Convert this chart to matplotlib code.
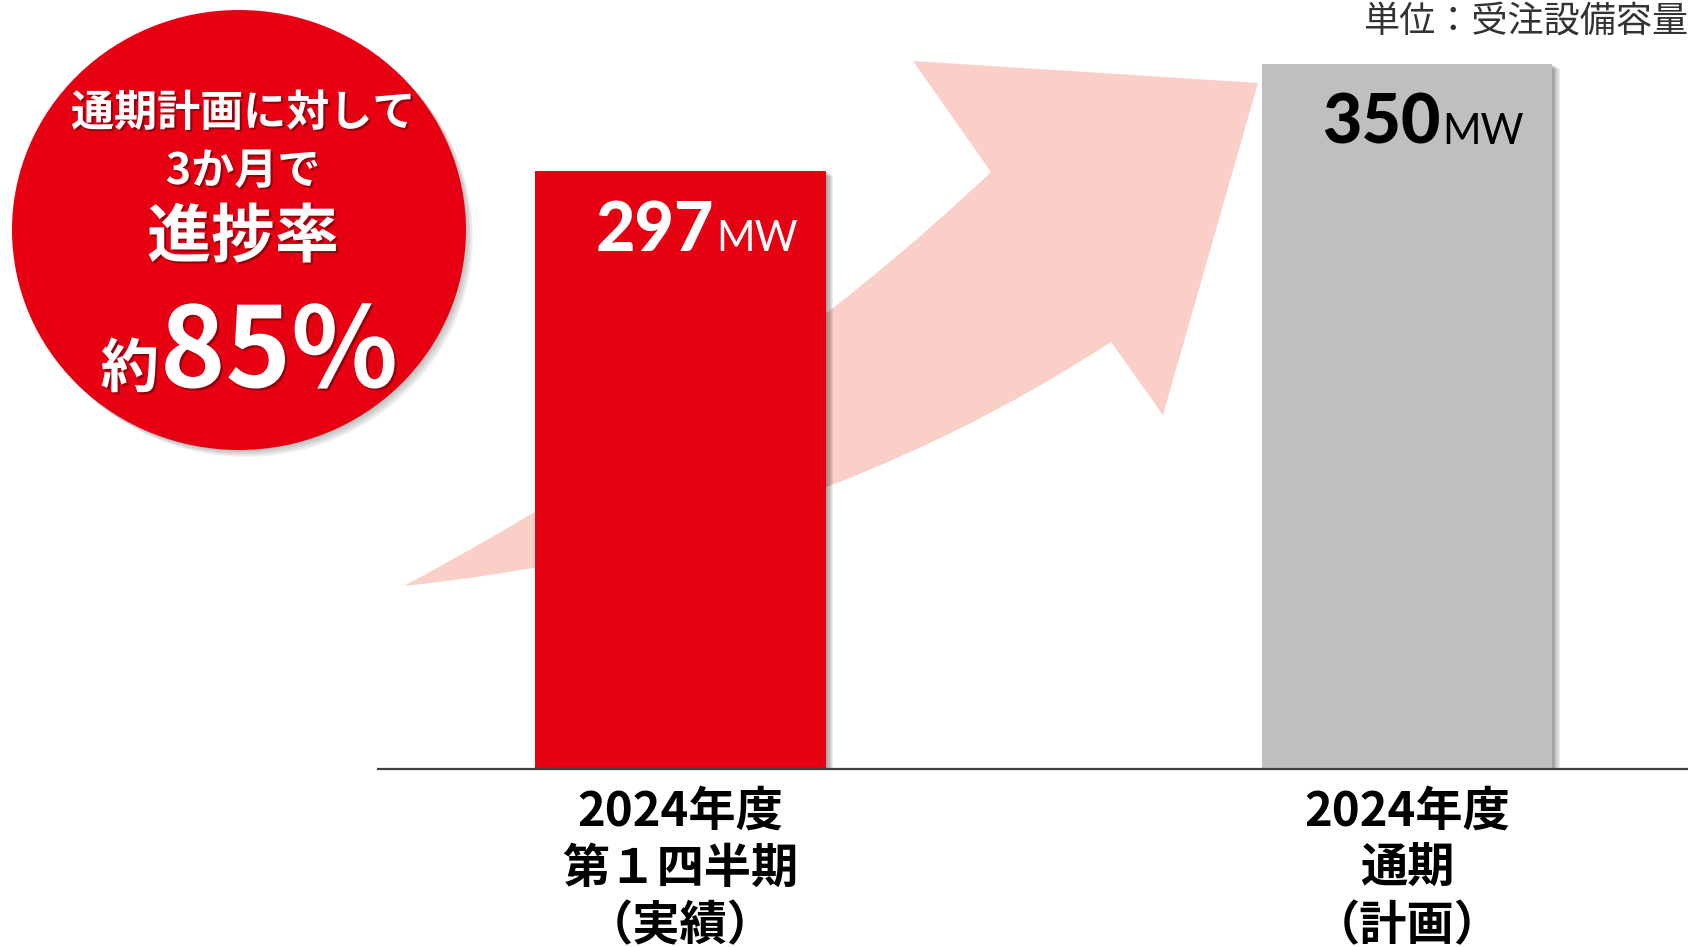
import matplotlib
matplotlib.use("Agg")
import matplotlib.pyplot as plt
import matplotlib.patheffects as pe
from matplotlib.patches import Ellipse, PathPatch
from matplotlib.path import Path

plt.rcParams['font.family'] = ['Noto Sans CJK JP', 'DejaVu Sans']

# data
categories = [["2024年度", "第１四半期", "（実績）"],
              ["2024年度", "通期", "（計画）"]]
values = [297, 350]
unit = "MW"
bar_colors = ["#E50012", "#BFBFBF"]
value_colors = ["white", "black"]
unit_note = "単位：受注設備容量"
badge_lines = ["通期計画に対して", "3か月で", "進捗率"]
badge_prefix = "約"
badge_value = "85%"

W, H = 1688, 947
fig = plt.figure(figsize=(W / 100, H / 100), dpi=100)

# background layer in pixel coords (arrow, badge)
bg = fig.add_axes([0, 0, 1, 1], zorder=0)
bg.set_xlim(0, W)
bg.set_ylim(H, 0)
bg.axis("off")

# curved arrow behind the bars
arrow_verts = [(404, 586), (750, 400), (991, 172), (913, 61), (1258, 83),
               (1163, 415), (1111, 342), (800, 545), (404, 586), (404, 586)]
arrow_codes = [Path.MOVETO, Path.CURVE3, Path.CURVE3, Path.LINETO, Path.LINETO,
               Path.LINETO, Path.LINETO, Path.CURVE3, Path.CURVE3, Path.CLOSEPOLY]
bg.add_patch(PathPatch(Path(arrow_verts, arrow_codes), facecolor="#FACFC7",
                       edgecolor="none"))

# badge circle with soft shadow
soft = [pe.SimplePatchShadow(offset=(k, -k), shadow_rgbFace="k", alpha=0.05)
        for k in range(1, 6)] + [pe.Normal()]
bg.add_patch(Ellipse((239, 230), 454, 440, facecolor="#E60012",
                     edgecolor="none", path_effects=soft))

txt_fx = [pe.SimplePatchShadow(offset=(1.5, -1.5), shadow_rgbFace="k", alpha=0.35),
          pe.Normal()]
bg.text(243, 113, badge_lines[0], color="white", fontsize=31, weight="bold",
        ha="center", va="center", path_effects=txt_fx)
bg.text(243, 171, badge_lines[1], color="white", fontsize=31, weight="bold",
        ha="center", va="center", path_effects=txt_fx)
bg.text(243, 238, badge_lines[2], color="white", fontsize=46, weight="bold",
        ha="center", va="center", path_effects=txt_fx)
bg.text(159, 387, badge_prefix, color="white", fontsize=42, weight="bold",
        ha="right", va="baseline", path_effects=txt_fx)
bg.text(160, 387, badge_value, color="white", fontsize=80, weight="bold",
        ha="left", va="baseline", path_effects=txt_fx)

# bar chart
ax = fig.add_axes([378 / W, (H - 769) / H, 1310 / W, 769 / H], zorder=1)
ax.patch.set_alpha(0)
x = [0, 1]
bw = 0.4
bar_fx = [pe.SimplePatchShadow(offset=(k * 0.9, -k * 0.6), shadow_rgbFace="k",
                               alpha=0.07) for k in range(1, 7)] + [pe.Normal()]
bars = ax.bar(x, values, width=bw, color=bar_colors, zorder=2)
for b in bars:
    b.set_path_effects(bar_fx)
ax.set_xlim(-0.4164, 1.3868)
ax.set_ylim(0, 350 * 769 / 705)
for s in ["top", "right", "left"]:
    ax.spines[s].set_visible(False)
ax.spines["bottom"].set_color("#404040")
ax.spines["bottom"].set_linewidth(1.6)
ax.spines["bottom"].set_zorder(5)
ax.set_xticks([])
ax.set_yticks([])

# category labels, one line at a time
for xi, lines in zip(x, categories):
    for j, line in enumerate(lines):
        ax.annotate(line, xy=(xi, 0), xytext=(0, -43 - 57 * j),
                    textcoords="offset pixels", ha="center", va="center",
                    fontsize=34, weight="bold", color="black",
                    annotation_clip=False)

# value labels: bold number + smaller unit, right-aligned inside bar
num_font = ["Lato", "DejaVu Sans"]
fig.canvas.draw()
renderer = fig.canvas.get_renderer()
for xi, v, c in zip(x, values, value_colors):
    u = ax.annotate(unit, xy=(xi + bw / 2, v), xytext=(-28, -80),
                    textcoords="offset pixels", ha="right", va="baseline",
                    fontsize=30, color=c, family=num_font, zorder=3)
    uw = u.get_window_extent(renderer).width
    ax.annotate(str(v), xy=(xi + bw / 2, v), xytext=(-28 - uw - 2, -80),
                textcoords="offset pixels", ha="right", va="baseline",
                fontsize=49, weight=900, color=c, family=num_font, zorder=3)

fig.text(1363 / W, 1 - 22 / H, unit_note, fontsize=26, color="#333333",
         ha="left", va="center")

fig.savefig("out.png", dpi=100)
